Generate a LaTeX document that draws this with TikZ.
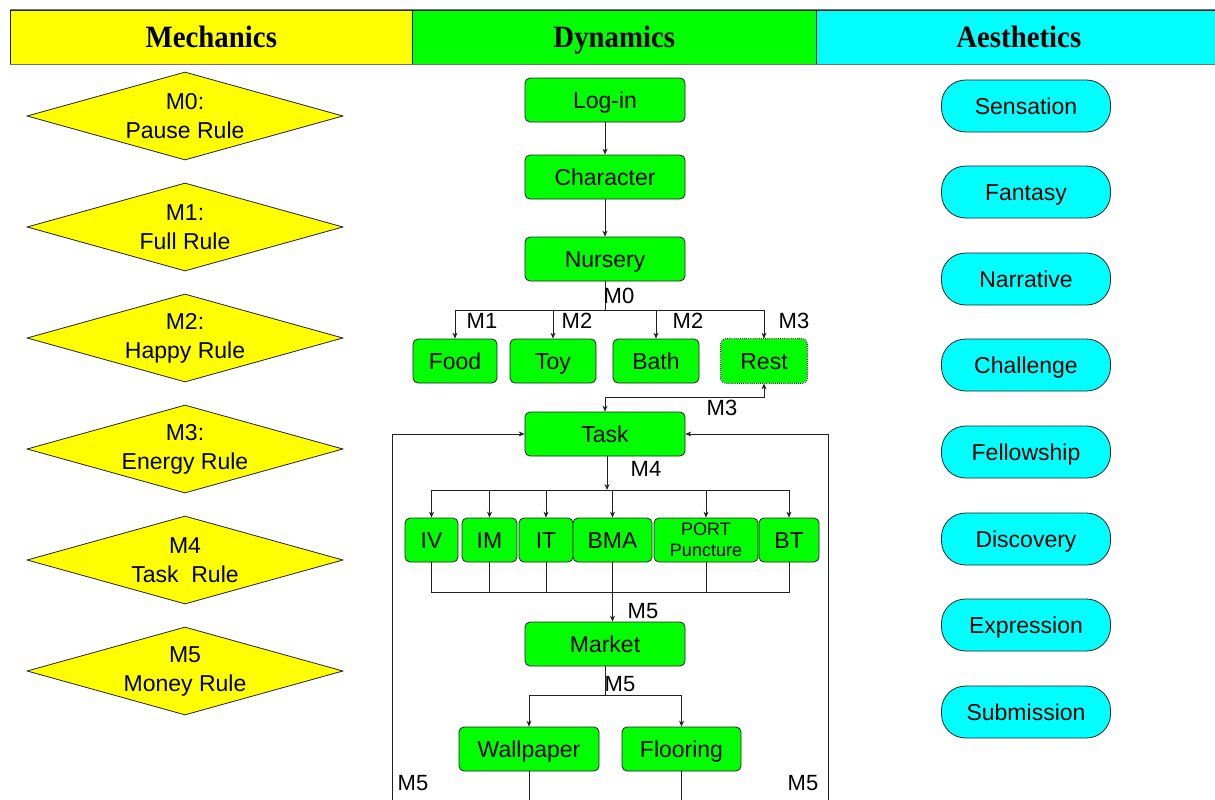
\documentclass[tikz,border=0pt]{standalone}
\usepackage{fontspec}
\setmainfont{Liberation Sans}
\newfontfamily\headfont{Liberation Serif}
\usetikzlibrary{shapes.geometric,arrows.meta}
\definecolor{gline}{HTML}{222222}
\definecolor{cyel}{HTML}{FFFF00}
\definecolor{cgrn}{HTML}{00FF00}
\definecolor{ccyn}{HTML}{00FFFF}
\begin{document}
\begin{tikzpicture}[x=1pt,y=-1pt,
  every node/.style={font=\fontsize{23}{27}\selectfont},
  head/.style={draw=gline, line width=0.6pt, minimum height=54pt, inner sep=0pt,
    text height=25pt, text depth=4pt,
    font=\headfont\bfseries\fontsize{31}{34}\selectfont},
  rulebox/.style={diamond, aspect=3.6, draw=gline, fill=cyel, line width=0.8pt,
    minimum width=316pt, minimum height=88pt, inner sep=0pt, align=center,
    font=\fontsize{23}{29}\selectfont},
  aes/.style={draw=gline, fill=ccyn, line width=0.8pt, rounded corners=24pt,
    minimum width=169pt, minimum height=52pt, inner sep=0pt,
    text height=19pt, text depth=2.5pt},
  dyn/.style={draw=gline, fill=cgrn, line width=0.8pt, rounded corners=5pt,
    minimum width=160pt, minimum height=44pt, inner sep=0pt},
  one/.style={text height=19pt, text depth=2.5pt},
  lab/.style={inner sep=0pt, font=\fontsize{22}{26}\selectfont},
  conn/.style={draw=gline, line width=0.8pt},
  arr/.style={conn, -{Stealth[length=6pt,width=5pt]}},
  darr/.style={conn, {Stealth[length=6pt,width=5pt]}-{Stealth[length=6pt,width=5pt]}}
]
\useasboundingbox (0,0) rectangle (1215,800);
% header
\node[head, fill=cyel, minimum width=402pt, anchor=north west] (hm) at (10,10) {\scalebox{0.93}[1]{Mechanics}};
\node[head, fill=cgrn, minimum width=404pt, anchor=north west] (hd) at (412,10) {\scalebox{0.93}[1]{Dynamics}};
\node[head, fill=ccyn, minimum width=405pt, anchor=north west] (ha) at (816,10) {\scalebox{0.93}[1]{Aesthetics}};
\draw[black!55, line width=1.6pt] (10,9.5) -- (1215,9.5);
\draw[black!55, line width=1.6pt] (10,64.5) -- (1215,64.5);

% mechanics
\node[rulebox] (m0) at (185,116) {M0:\\Pause Rule};
\node[rulebox] (m1) at (185,227) {M1:\\Full Rule};
\node[rulebox] (m2) at (185,338) {M2:\\Happy Rule};
\node[rulebox] (m3) at (185,449) {M3:\\Energy Rule};
\node[rulebox] (m4) at (185,560) {M4\\Task\ \ Rule};
\node[rulebox] (m5) at (185,671) {M5\\Money Rule};

% aesthetics
\node[aes] (a1) at (1026,106) {Sensation};
\node[aes] (a2) at (1026,192) {Fantasy};
\node[aes] (a3) at (1026,279) {Narrative};
\node[aes] (a4) at (1026,365) {Challenge};
\node[aes] (a5) at (1026,452) {Fellowship};
\node[aes] (a6) at (1026,539) {Discovery};
\node[aes] (a7) at (1026,625) {Expression};
\node[aes] (a8) at (1026,712) {Submission};

% dynamics
\node[dyn, one] (login) at (605,100) {Log-in};
\node[dyn, one] (char) at (605,177) {Character};
\node[dyn, one] (nurs) at (605,259) {Nursery};
\node[dyn, one, minimum width=84pt] (food) at (455,361) {Food};
\node[dyn, one, minimum width=86pt] (toy) at (553,361) {Toy};
\node[dyn, one, minimum width=86pt] (bath) at (656,361) {Bath};
\node[dyn, one, minimum width=86pt, draw=none] (rest) at (764,361) {Rest};
\draw[gline, line width=0.9pt, densely dotted, rounded corners=5pt] (rest.south west) rectangle (rest.north east);
\node[dyn, one] (task) at (605,434) {Task};
\node[dyn, one, minimum width=53pt] (iv) at (431.5,540) {IV};
\node[dyn, one, minimum width=55pt] (im) at (489.5,540) {IM};
\node[dyn, one, minimum width=54pt] (it) at (546,540) {IT};
\node[dyn, one, minimum width=79pt] (bma) at (612.5,540) {BMA};
\node[dyn, minimum width=104pt, align=center, font=\fontsize{18}{21}\selectfont] (port) at (706,540) {PORT\\Puncture};
\node[dyn, one, minimum width=60pt] (bt) at (789,540) {BT};
\node[dyn, one] (market) at (605,644) {Market};
\node[dyn, one, minimum width=140pt] (wall) at (529,749) {Wallpaper};
\node[dyn, one, minimum width=119pt] (floor) at (681.5,749) {Flooring};

% junction coordinates
\coordinate (j0) at (605,310);
\coordinate (j1) at (605,397);
\coordinate (j2) at (607,490);
\coordinate (j3) at (432,592);
\coordinate (j4) at (605,695);
\coordinate (wb) at (529,800);
\coordinate (fb) at (681.5,800);
\coordinate (ll) at (392,800);
\coordinate (rl) at (828,800);

% connectors
\draw[arr] (login) -- (char);
\draw[arr] (char) -- (nurs);
\draw[conn] (nurs) -- (j0);
\draw[arr] (j0) -| (food);
\draw[arr] (j0) -| (toy);
\draw[arr] (j0) -| (bath);
\draw[arr] (j0) -| (rest);
\draw[darr] (rest.south) |- (j1) -- (task.north);
\draw[arr] (task.south -| j2) -- (j2);
\draw[arr] (j2) -| (iv);
\draw[arr] (j2) -| (im);
\draw[arr] (j2) -| (it);
\draw[arr] (j2) -| (bma);
\draw[arr] (j2) -| (port);
\draw[arr] (j2) -| (bt);
\draw[conn] (iv.south) -- (iv.south |- j3) -- (bt.south |- j3) -- (bt.south);
\draw[conn] (im.south) -- (im.south |- j3);
\draw[conn] (it.south) -- (it.south |- j3);
\draw[conn] (port.south) -- (port.south |- j3);
\draw[arr] (bma.south) -- (bma.south |- market.north);
\draw[conn] (market) -- (j4);
\draw[arr] (j4) -| (wall);
\draw[arr] (j4) -| (floor);
\draw[conn] (wall) -- (wb);
\draw[conn] (floor) -- (fb);
\draw[arr] (ll) |- (task.west);
\draw[arr] (rl) |- (task.east);

% labels
\node[lab] (l0) at (619,296) {M0};
\node[lab] (l1) at (482,321) {M1};
\node[lab] (l2) at (577,321) {M2};
\node[lab] (l3) at (688,321) {M2};
\node[lab] (l4) at (794,321) {M3};
\node[lab] (l5) at (722,408) {M3};
\node[lab] (l6) at (646,469) {M4};
\node[lab] (l7) at (643,611) {M5};
\node[lab] (l8) at (620,684) {M5};
\node[lab] (l9) at (413,783) {M5};
\node[lab] (l10) at (803,783) {M5};
\end{tikzpicture}
\end{document}
